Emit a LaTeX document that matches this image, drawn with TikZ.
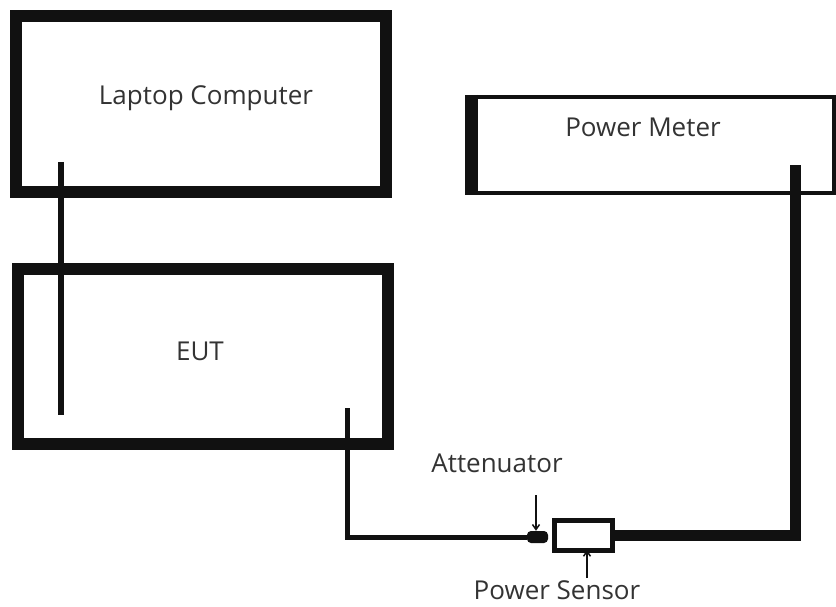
\documentclass[tikz,border=0pt]{standalone}
\usepackage{fontspec}
\setmainfont{Open Sans}
\usepackage{tikz}
\usetikzlibrary{arrows.meta,positioning,calc}
\definecolor{Ink}{HTML}{111111}
\definecolor{Label}{HTML}{333333}

\begin{document}
\begin{tikzpicture}[x=1pt,y=-1pt,
    font=\fontsize{26}{31}\selectfont,
    unit/.style={draw=Ink,line width=12pt,minimum width=370pt,inner sep=0pt},
    cable/.style={draw=Ink,line width=#1},
    tag/.style={text=Label,inner sep=0pt},
    pointer/.style={draw=Ink,line width=1.5pt,-{Straight Barb[length=5pt,width=7pt]}}]
  \useasboundingbox (0,0) rectangle (836,607);
  % instruments
  \node[unit,minimum height=176pt] (laptop) at (201,104) {};
  \node[tag] (laptoptxt) at (206,98) {Laptop Computer};
  \node[unit,minimum height=175pt] (eut) at (203,356.5) {};
  \node[tag] (euttxt) at (200,351) {EUT};
  \node[draw=Ink,line width=4pt,minimum width=367pt,minimum height=96pt] (meter) at (650.5,145) {};
  \draw[Ink,line width=13pt] ([xshift=6.5pt]meter.north west) -- ([xshift=6.5pt]meter.south west);
  \node[tag] (metertxt) at (643,127) {Power Meter};
  % sensor chain
  \node[draw=Ink,line width=5pt,minimum width=58pt,minimum height=30pt,inner sep=0pt] (sensor) at (583.5,535.5) {};
  \node[fill=Ink,rounded corners=4pt,minimum width=21pt,minimum height=12pt,inner sep=0pt] (atten) at (537.5,537) {};
  % cables
  \coordinate (lapend) at (61,162);
  \coordinate (eutend) at (61,415);
  \draw[cable=6pt] (lapend) -- (eutend);
  \coordinate (rfout) at (347,408);
  \draw[cable=5pt] (rfout) |- (atten.west);
  \coordinate (meterin) at (795,165);
  \draw[cable=11pt] (sensor.east) -| (meterin);
  % labels
  \node[tag] (attentxt) at (497,463) {Attenuator};
  \node[tag] (sensortxt) at (557,590) {Power Sensor};
  \coordinate (attenarr) at (536,495);
  \draw[pointer] (attenarr) -- (atten.north -| attenarr);
  \coordinate (sensorarr) at (587,578);
  \draw[pointer] (sensorarr) -- ([yshift=3pt]sensor.south -| sensorarr);
\end{tikzpicture}
\end{document}
